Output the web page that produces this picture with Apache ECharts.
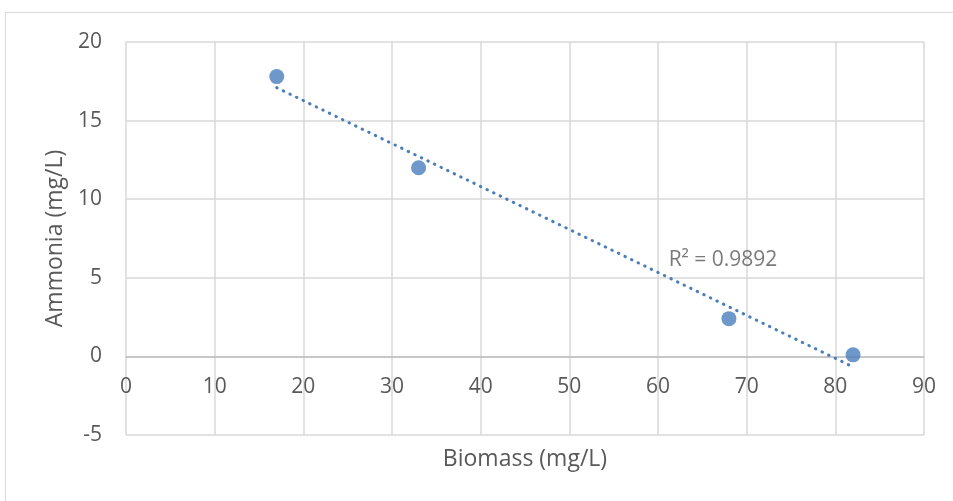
<!DOCTYPE html>
<html>
<head>
<meta charset="utf-8">
<script src="https://cdn.jsdelivr.net/npm/echarts@6/dist/echarts.min.js"></script>
<style>
  html, body { margin: 0; padding: 0; background: #fff; }
  #frame { position: absolute; left: 5px; top: 12px; width: 960px; height: 500px; border: 1px solid #d9d9d9; box-sizing: border-box; }
  #chart { position: absolute; left: 0; top: 0; width: 953px; height: 501px; }
</style>
</head>
<body>
<div id="frame"></div>
<div id="chart"></div>
<script>
const biomass = [17, 33, 68, 82];
const ammonia = [17.8, 12, 2.4, 0.1];
const r2Label = "R² = 0.9892";
const r2LabelAt = [61.2, 6.1];

const FONT = "Open Sans";
const TEXT = "#595959";
const BLUE = "#4a7ebb";

// least-squares fit, drawn between the first and last x
function linearFit(xs, ys) {
  const n = xs.length;
  const mx = xs.reduce((a, b) => a + b, 0) / n;
  const my = ys.reduce((a, b) => a + b, 0) / n;
  let sxy = 0, sxx = 0;
  for (let i = 0; i < n; i++) {
    sxy += (xs[i] - mx) * (ys[i] - my);
    sxx += (xs[i] - mx) ** 2;
  }
  const slope = sxy / sxx;
  return x => my + slope * (x - mx);
}

const fit = linearFit(biomass, ammonia);
const xMin = Math.min(...biomass), xMax = Math.max(...biomass);
const trend = [[xMin, fit(xMin)], [xMax, fit(xMax)]];

const chart = echarts.init(document.getElementById("chart"));
chart.setOption({
  animation: false,
  grid: { left: 126, right: 29, top: 42, bottom: 66, outerBoundsMode: "none", containLabel: false },
  xAxis: {
    type: "value", min: 0, max: 90, interval: 10,
    name: "Biomass (mg/L)", nameLocation: "middle", nameGap: 13,
    nameMoveOverlap: false,
    nameTextStyle: { fontFamily: FONT, fontSize: 23, color: TEXT },
    axisLine: { show: true, onZero: true, lineStyle: { color: "#bfbfbf", width: 1.5 } },
    axisTick: { show: false },
    // labels sit just under the zero line, above the grid bottom
    axisLabel: { margin: -58, fontFamily: FONT, fontSize: 21, color: TEXT },
    splitLine: { show: true, lineStyle: { color: "#d9d9d9", width: 1.5 } },
  },
  yAxis: {
    type: "value", min: -5, max: 20, interval: 5,
    name: "Ammonia (mg/L)", nameLocation: "middle", nameGap: 58,
    nameTextStyle: { fontFamily: FONT, fontSize: 23, color: TEXT },
    axisLine: { show: false },
    axisTick: { show: false },
    axisLabel: { margin: 24, fontFamily: FONT, fontSize: 21, color: TEXT },
    splitLine: { show: true, lineStyle: { color: "#d9d9d9", width: 1.5 } },
  },
  series: [
    {
      type: "line",
      data: trend,
      showSymbol: false,
      silent: true,
      lineStyle: { color: BLUE, width: 3, type: [0.5, 6.8], cap: "round" },
      z: 2,
    },
    {
      type: "scatter",
      data: biomass.map((x, i) => [x, ammonia[i]]),
      symbolSize: 15,
      itemStyle: { color: BLUE },
      z: 3,
    },
    {
      type: "scatter",
      data: [r2LabelAt],
      symbolSize: 0,
      silent: true,
      label: {
        show: true, position: "right", distance: 0,
        formatter: r2Label,
        fontFamily: FONT, fontSize: 21, color: TEXT,
      },
    },
  ],
});
</script>
</body>
</html>
